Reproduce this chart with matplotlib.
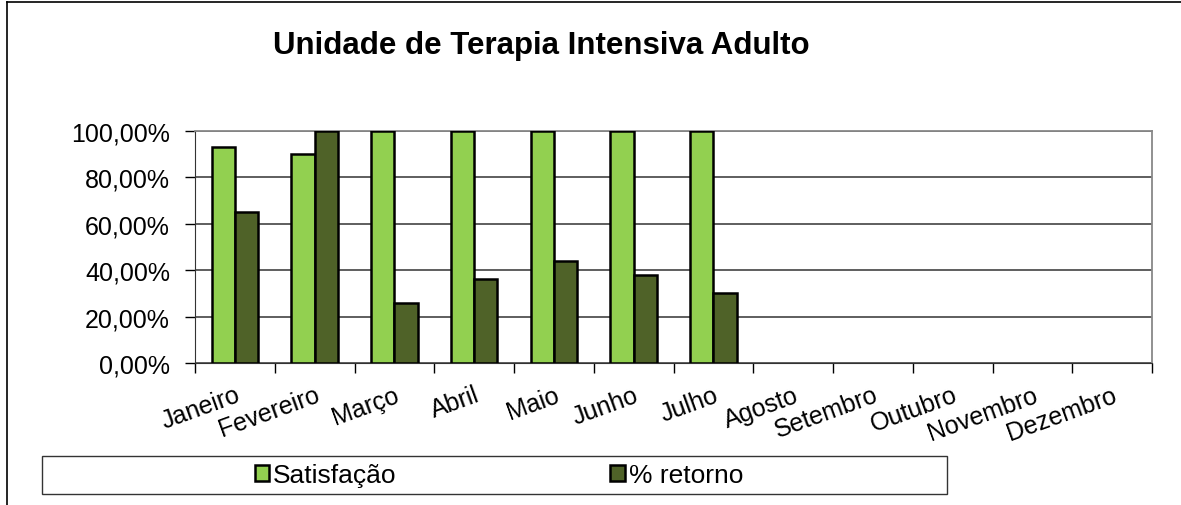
import matplotlib.pyplot as plt
import matplotlib.patches as mpatches
import numpy as np

plt.rcParams['font.family'] = ['Liberation Sans', 'DejaVu Sans']

# Data
meses = ['Janeiro', 'Fevereiro', 'Março', 'Abril', 'Maio', 'Junho', 'Julho',
         'Agosto', 'Setembro', 'Outubro', 'Novembro', 'Dezembro']
satisfacao = [93, 90, 100, 100, 100, 100, 100]
retorno = [65, 100, 26, 36, 44, 38, 30]

fig = plt.figure(figsize=(11.81, 5.06), dpi=100)
ax = fig.add_axes([195 / 1181, 1 - 364 / 506, (1152 - 195) / 1181, (364 - 132) / 506])

x = np.arange(len(meses))
w = 0.29
ax.bar(x[:len(satisfacao)] - w / 2, satisfacao, w, color='#92D050',
       edgecolor='black', linewidth=1.8, label='Satisfação', zorder=3)
ax.bar(x[:len(retorno)] + w / 2, retorno, w, color='#4F6228',
       edgecolor='black', linewidth=1.8, label='% retorno', zorder=3)

ax.set_xlim(-0.5, len(meses) - 0.5)
ax.set_ylim(0, 100)
ax.set_yticks(np.arange(0, 101, 20))
ax.set_yticklabels([f'{v},00%' for v in range(0, 101, 20)], fontsize=18)
ax.yaxis.grid(True, color='#333333', linewidth=1.1, zorder=0)
ax.tick_params(axis='y', length=7, width=1, pad=11)

ax.set_xticks(x)
ax.set_xticklabels(meses, rotation=20, ha='right', rotation_mode='anchor', fontsize=18)
ax.set_xticks(np.arange(-0.5, len(meses)), minor=True)
ax.tick_params(axis='x', which='major', length=0, pad=14)
ax.tick_params(axis='x', which='minor', length=7, width=1)

for s in ['top', 'right']:
    ax.spines[s].set_color('#888888')
    ax.spines[s].set_linewidth(1.3)
ax.spines['left'].set_color('#333333')
ax.spines['bottom'].set_color('#333333')

fig.text(541 / 1181, 1 - 46 / 506, 'Unidade de Terapia Intensiva Adulto',
         ha='center', va='center', fontsize=22.5, fontweight='bold')

# legend box
fig.patches.append(mpatches.Rectangle((42 / 1181, 1 - 495 / 506), (947 - 42) / 1181, 38 / 506,
                                      transform=fig.transFigure, fill=False,
                                      edgecolor='#333333', linewidth=1))
fig.legend(loc='center', bbox_to_anchor=(499 / 1181, 1 - 476 / 506), ncol=2,
           frameon=False, fontsize=19, handlelength=0.55, handleheight=0.55,
           handletextpad=0.15, columnspacing=8.1, borderpad=0, borderaxespad=0)

# outer frame
fig.add_artist(plt.Line2D([7 / 1181, 7 / 1181], [0, 1 - 3 / 506], color='black', linewidth=1.2))
fig.add_artist(plt.Line2D([7 / 1181, 1], [1 - 3 / 506, 1 - 3 / 506], color='black', linewidth=1.2))

fig.savefig('out.png', dpi=100)
